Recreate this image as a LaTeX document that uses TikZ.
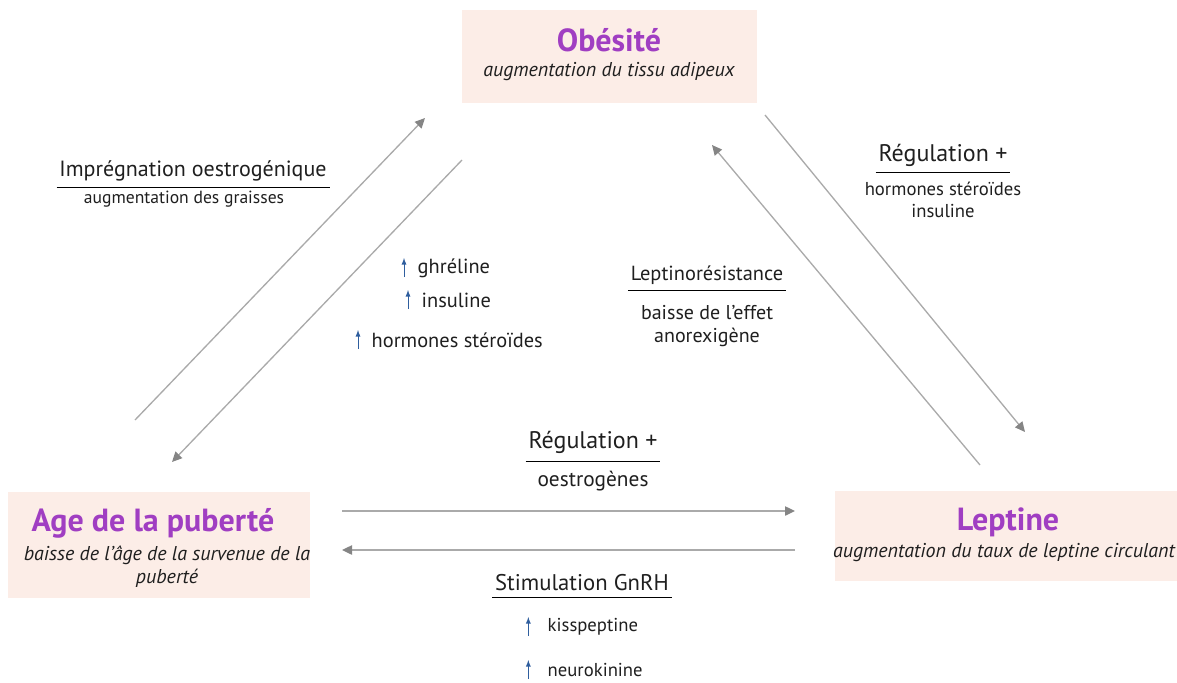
\documentclass[tikz,border=0pt]{standalone}
\usepackage{fontspec}
\setmainfont{PT Sans}
\usepackage{tikz}
\usetikzlibrary{arrows.meta}

\definecolor{violet}{HTML}{A03EC2}
\definecolor{peche}{HTML}{FCEDE7}
\definecolor{gris}{HTML}{AAAAAA}
\definecolor{grisf}{HTML}{858585}
\definecolor{bleu}{HTML}{2F5E9E}

\tikzset{
  boite/.style={fill=peche, inner sep=0pt},
  titre/.style={font=\fontsize{24}{28}\selectfont\bfseries, text=violet},
  sous/.style={font=\fontsize{15}{17.5}\selectfont\itshape, text=black!88, align=center},
  texte/.style={font=\fontsize{14}{17}\selectfont, text=black!88, align=center},
  entete/.style={texte, inner xsep=2pt, inner ysep=4pt},
  lien/.style={-{Triangle[length=7.5pt, width=7pt, color=grisf]}, draw=gris, line width=1pt},
  hausse/.style={->, >=latex, draw=bleu, line width=0.7pt},
}

\begin{document}
\begin{tikzpicture}[x=0.75pt, y=-0.75pt]
\useasboundingbox (0,0) rectangle (1177,682);

% boites
\node[boite, minimum width=221pt, minimum height=70pt] (obe) at (609.5,56.5) {};
\node[boite, minimum width=226pt, minimum height=80pt] (age) at (159,545) {};
\node[boite, minimum width=257pt, minimum height=67pt] (lep) at (1006,536) {};

\node[titre] (tobe) at (609,40) {Obésité};
\node[sous] (sobe) at (609,72) {augmentation du tissu adipeux};
\node[titre] (tage) at (153,523) {Age de la puberté};
\node[sous] (sage) at (167,567) {baisse de l’âge de la survenue de la\\puberté};
\node[titre] (tlep) at (1008,522) {Leptine};
\node[sous] (slep) at (1004,553) {augmentation du taux de leptine circulant};

% fleches
\coordinate (a1) at (135,420); \coordinate (a2) at (425,118);
\coordinate (b1) at (462,160); \coordinate (b2) at (172,462);
\coordinate (c1) at (765,115); \coordinate (c2) at (1025,432);
\coordinate (d1) at (980,465); \coordinate (d2) at (712,145);
\coordinate (e1) at (342,511); \coordinate (e2) at (795,511);
\coordinate (f1) at (795,550); \coordinate (f2) at (342,550);
\draw[lien] (a1) -- (a2);
\draw[lien] (b1) -- (b2);
\draw[lien] (c1) -- (c2);
\draw[lien] (d1) -- (d2);
\draw[lien] (e1) -- (e2);
\draw[lien] (f1) -- (f2);

% textes
\node[entete, font=\fontsize{16.5}{20}\selectfont] (impr) at (193,171) {Imprégnation oestrogénique};
\draw (impr.south west) -- (impr.south east);
\node[texte, font=\fontsize{13.2}{16}\selectfont] (grais) at (184,199) {augmentation des graisses};

\node[texte, anchor=west, font=\fontsize{15.3}{18}\selectfont] (ghr) at (413,268) {ghréline};
\draw[hausse] ([xshift=-6.75pt, yshift=-6.75pt]ghr.west) -- ++(0,-19);
\node[texte, anchor=west, font=\fontsize{15.3}{18}\selectfont] (ins) at (417,300) {insuline};
\draw[hausse] ([xshift=-6.75pt, yshift=-6.75pt]ins.west) -- ++(0,-19);
\node[texte, anchor=west, font=\fontsize{15.3}{18}\selectfont] (hst) at (367,340) {hormones stéroïdes};
\draw[hausse] ([xshift=-6.75pt, yshift=-6.75pt]hst.west) -- ++(0,-19);

\node[entete, font=\fontsize{15.3}{18}\selectfont] (lres) at (707,275) {Leptinorésistance};
\draw (lres.south west) -- (lres.south east);
\node[texte, font=\fontsize{15}{17.5}\selectfont] (anor) at (707,326) {baisse de l’effet\\anorexigène};

\node[entete, font=\fontsize{18}{22}\selectfont] (rega) at (943,155) {Régulation +};
\draw (rega.south west) -- (rega.south east);
\node[texte] (hins) at (943,200) {hormones stéroïdes\\insuline};

\node[entete, font=\fontsize{18}{22}\selectfont, inner ysep=6pt] (regb) at (593,442) {Régulation +};
\draw (regb.south west) -- (regb.south east);
\node[texte, font=\fontsize{16}{19}\selectfont] (oes) at (593,481) {oestrogènes};

\node[entete, font=\fontsize{17}{20}\selectfont] (gnrh) at (582,583) {Stimulation GnRH};
\draw (gnrh.south west) -- (gnrh.south east);
\node[texte, anchor=west] (kiss) at (543,627) {kisspeptine};
\draw[hausse] ([xshift=-11pt, yshift=-6.75pt]kiss.west) -- ++(0,-19);
\node[texte, anchor=west] (neur) at (543,670) {neurokinine};
\draw[hausse] ([xshift=-11pt, yshift=-6.75pt]neur.west) -- ++(0,-19);
\end{tikzpicture}
\end{document}
